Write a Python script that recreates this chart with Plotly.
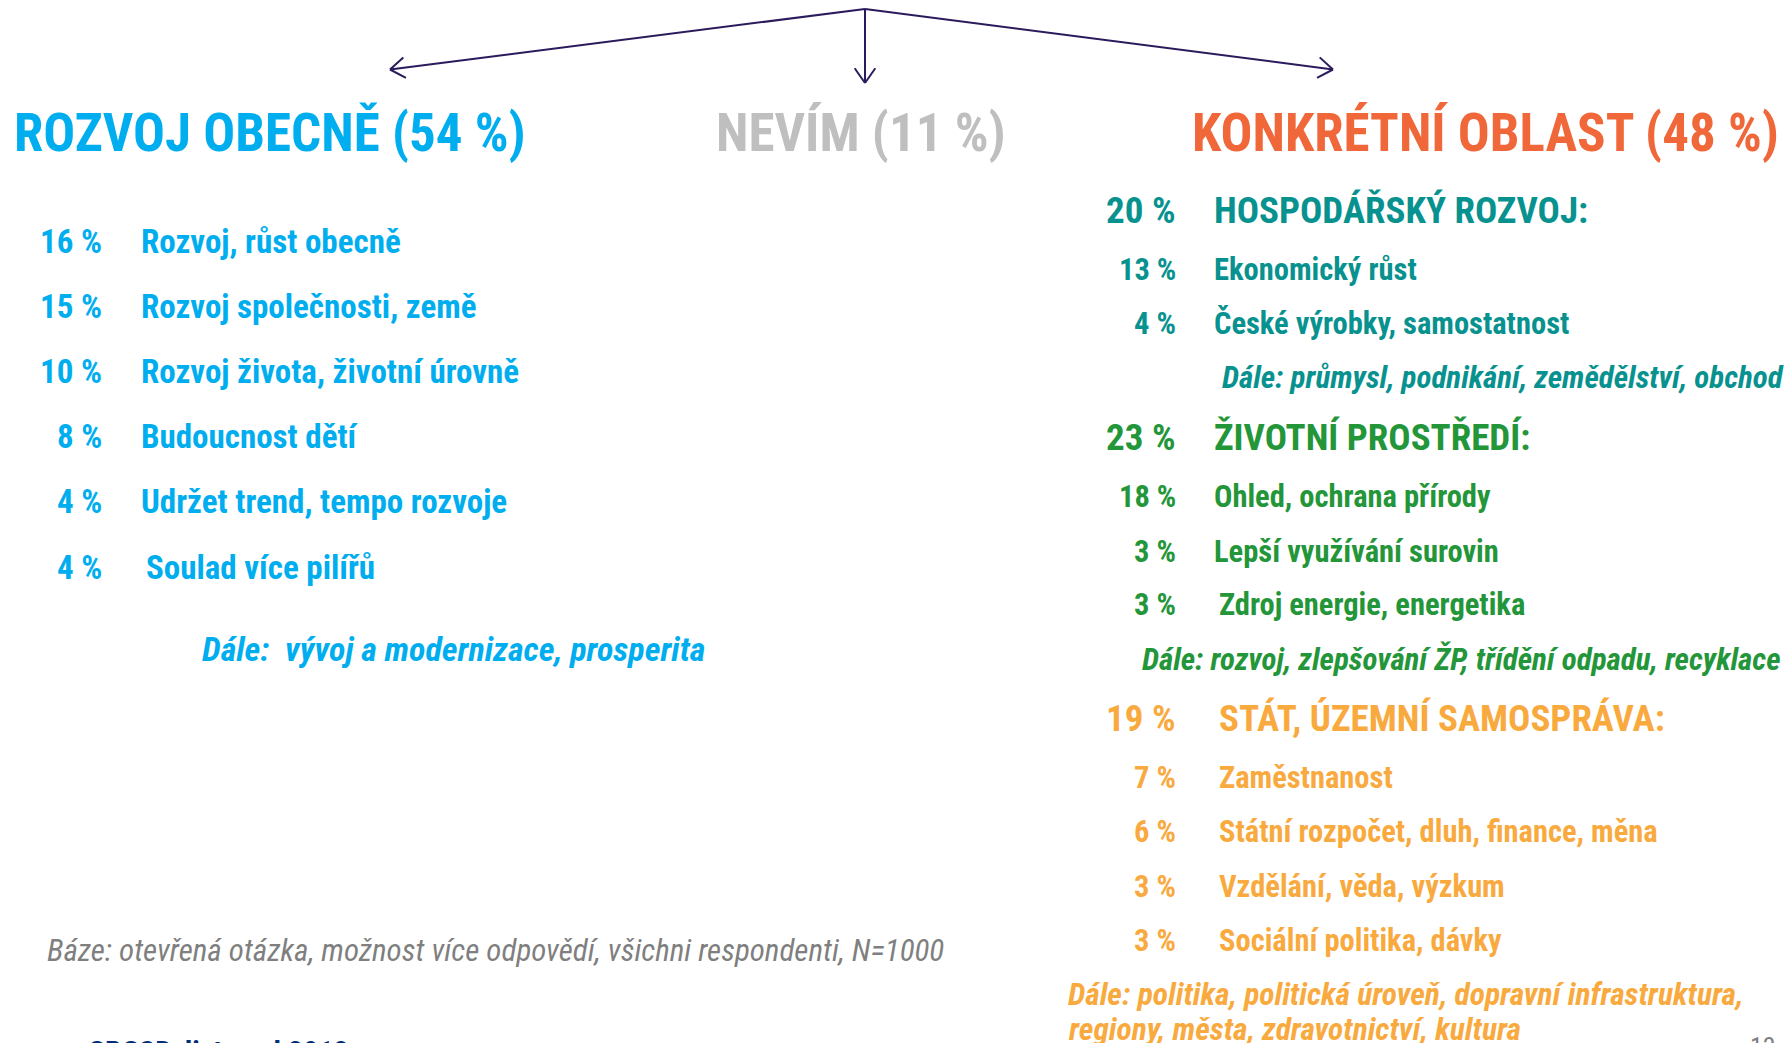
import numpy as np
import plotly.graph_objects as go

W, H = 1787, 1043
FONT = "Liberation Sans Narrow, Roboto Condensed, Arial Narrow, sans-serif"

# --- data ---
main_labels = ["ROZVOJ OBECNĚ", "NEVÍM", "KONKRÉTNÍ OBLAST"]
main_values = [54, 11, 48]

general_values = [16, 15, 10, 8, 4, 4]
general_labels = ["Rozvoj, růst obecně", "Rozvoj společnosti, země", "Rozvoj života, životní úrovně",
                  "Budoucnost dětí", "Udržet trend, tempo rozvoje", "Soulad více pilířů"]
general_more = "Dále:\u00a0 vývoj a modernizace, prosperita"

group_labels = ["HOSPODÁŘSKÝ ROZVOJ:", "ŽIVOTNÍ PROSTŘEDÍ:", "STÁT, ÚZEMNÍ SAMOSPRÁVA:"]
group_values = [20, 23, 19]
econ_values = [13, 4]
econ_labels = ["Ekonomický růst", "České výrobky, samostatnost"]
env_values = [18, 3, 3]
env_labels = ["Ohled, ochrana přírody", "Lepší využívání surovin", "Zdroj energie, energetika"]
state_values = [7, 6, 3, 3]
state_labels = ["Zaměstnanost", "Státní rozpočet, dluh, finance, měna", "Vzdělání, věda, výzkum",
                "Sociální politika, dávky"]
group_more = [["Dále: průmysl, podnikání, zemědělství, obchod"],
              ["Dále: rozvoj, zlepšování ŽP, třídění odpadu, recyklace"],
              ["Dále: politika, politická úroveň, dopravní infrastruktura,",
               "regiony, města, zdravotnictví, kultura"]]
group_items = [(econ_values, econ_labels), (env_values, env_labels), (state_values, state_labels)]

base_note = "Báze: otevřená otázka, možnost více odpovědí, všichni respondenti, N=1000"

# --- styles ---
CYAN = "#00AEEF"
GRAY = "#BFBFBF"
RED = "#F0683A"
group_colors = ["#08928F", "#23963A", "#F9AA3F"]
ARROW = "#2B1B5C"

fig = go.Figure()
ann = []


def txt(x, y, text, size, color, anchor="left", bold=True, italic=False, yanchor="middle"):
    ann.append(dict(x=x, y=y, text=text, xref="x", yref="y", showarrow=False,
                    xanchor=anchor, yanchor=yanchor, align="left",
                    font=dict(family=FONT, size=size, color=color,
                              weight="bold" if bold else "normal",
                              style="italic" if italic else "normal")))


# titles
title_x = [12, 714, 1781]
title_anchor = ["left", "left", "right"]
title_colors = [CYAN, GRAY, RED]
for lab, val, x, a, c in zip(main_labels, main_values, title_x, title_anchor, title_colors):
    txt(x, 133, f"{lab} ({val} %)", 53, c, anchor=a)

# left column
for i, (v, lab) in enumerate(zip(general_values, general_labels)):
    y = 241 + i * 65.2
    txt(104, y, f"{v} %", 33, CYAN, anchor="right")
    txt(144 if i == 5 else 139, y, lab, 33, CYAN)
txt(200, 649, general_more, 34, CYAN, italic=True)
txt(45, 950, base_note, 31, "#7F7F7F", bold=False, italic=True)

# right column
header_y = [210, 437, 718]
item_y = [[269, 323], [496, 551, 604], [777, 831, 886, 940]]
more_y = [377, 659, 994]
more_x = [1220, 1140, 1066]
more_size = [31, 31, 31.5]
label_x = [1212, 1212, 1217]
for g in range(3):
    c = group_colors[g]
    txt(1178, header_y[g], f"{group_values[g]} %", 37, c, anchor="right")
    txt(label_x[g], header_y[g], group_labels[g], 37, c)
    vals, labs = group_items[g]
    for j, (v, lab) in enumerate(zip(vals, labs)):
        lx = 1217 if (g == 1 and j == 2) else label_x[g]
        txt(1178, item_y[g][j], f"{v} %", 30.5, c, anchor="right")
        txt(lx, item_y[g][j], lab, 30.5, c)
    for k, line in enumerate(group_more[g]):
        txt(more_x[g], more_y[g] + k * 35.5, line, more_size[g], c, italic=True)

# footer (cut off by slide edge)
txt(78, 1034, "ace pro", 28, "#0070C0", anchor="right", bold=False, yanchor="top")
txt(86, 1032, "CBCSD, listopad 2012", 30, "#002C7A", yanchor="top")
txt(1778, 1030, "13", 26, "#7F7F7F", anchor="right", bold=False, yanchor="top")

# arrows from a common origin
origin = np.array([865.0, 9.0])
ends = [np.array([390.0, 69.5]), np.array([865.0, 83.0]), np.array([1333.0, 69.5])]
shapes = []
for e in ends:
    shapes.append(dict(type="line", xref="x", yref="y", x0=origin[0], y0=origin[1], x1=e[0], y1=e[1],
                       line=dict(color=ARROW, width=2)))
    d = (origin - e) / np.linalg.norm(origin - e)
    for ang in (np.radians(35), -np.radians(35)):
        rot = np.array([[np.cos(ang), -np.sin(ang)], [np.sin(ang), np.cos(ang)]])
        p = e + 18 * rot.dot(d)
        shapes.append(dict(type="line", xref="x", yref="y", x0=e[0], y0=e[1], x1=p[0], y1=p[1],
                           line=dict(color=ARROW, width=2)))

fig.update_layout(
    width=W, height=H,
    margin=dict(l=0, r=0, t=0, b=0),
    plot_bgcolor="white", paper_bgcolor="white",
    xaxis=dict(range=[0, W], visible=False, fixedrange=True),
    yaxis=dict(range=[H, 0], visible=False, fixedrange=True),
    annotations=ann, shapes=shapes, showlegend=False,
)

fig.write_html("out.html", config={"displayModeBar": False},
               post_script="document.body.style.margin='0';document.body.style.overflow='hidden';")
